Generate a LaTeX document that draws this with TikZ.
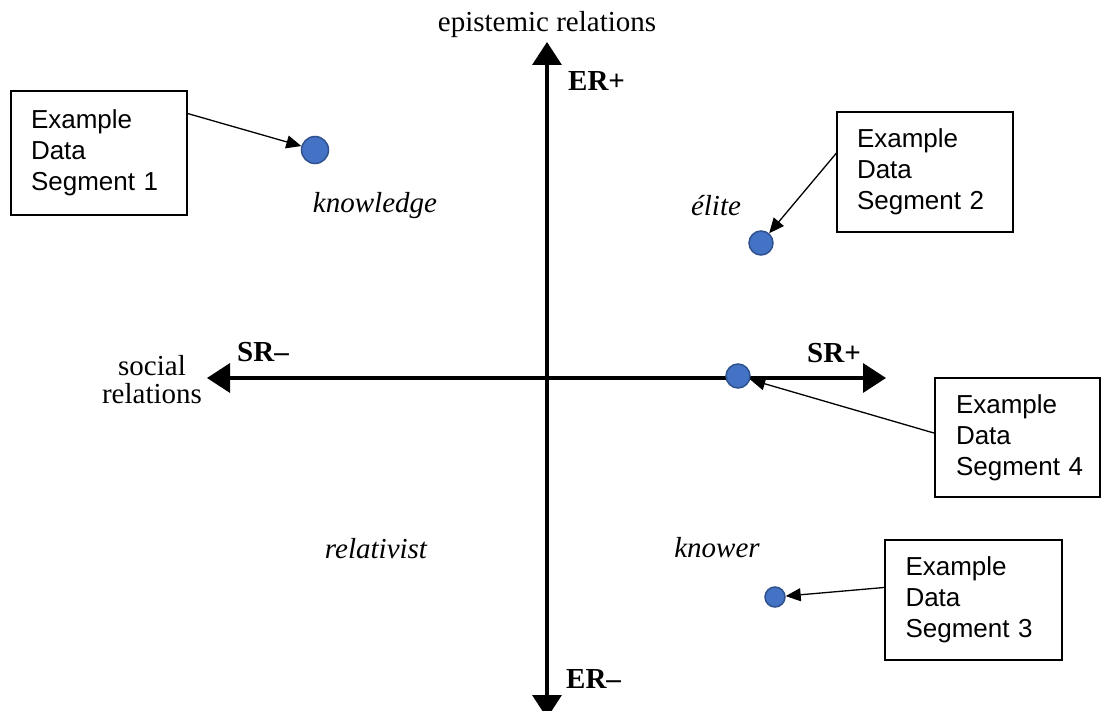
\documentclass[tikz,border=0pt]{standalone}
\usepackage{fontspec}
\setmainfont{Liberation Serif}
\newfontfamily\boxfont{Liberation Sans}
\usetikzlibrary{arrows.meta,calc}
\definecolor{dotfill}{HTML}{4472C4}
\definecolor{dotedge}{HTML}{2F528F}
\begin{document}
\begin{tikzpicture}[x=1pt,y=-1pt,
  axis/.style={line width=3.5pt,
    {Triangle[length=23pt,width=29pt]}-{Triangle[length=23pt,width=29pt]}},
  pointer/.style={line width=1.3pt, -{Triangle[length=15pt,width=13pt]}},
  databox/.style={draw, line width=1.3pt, rectangle, minimum width=176pt,
    minimum height=121pt, text width=136pt, inner xsep=20pt, align=left,
    font=\boxfont\fontsize{26}{31}\selectfont},
  datum/.style={circle, fill=dotfill, draw=dotedge, line width=1.5pt, inner sep=0pt},
  pole/.style={font=\bfseries\fontsize{29}{33}\selectfont, anchor=base west, inner sep=0pt},
  quadrant/.style={font=\itshape\fontsize{29}{33}\selectfont, anchor=base, inner sep=0pt},
  axisname/.style={font=\fontsize{29}{27}\selectfont, anchor=base, inner sep=0pt}]
\useasboundingbox (0,0) rectangle (1103,711);

% axes
\coordinate (axW) at (207,378);
\coordinate (axE) at (886,378);
\coordinate (axN) at (547,42);
\coordinate (axS) at (547,718);
\draw[axis] (axW) -- (axE);
\draw[axis] (axS) -- (axN);

% axis names and poles
\node[axisname] (er) at (547,32) {epistemic relations};
\node[axisname] (sr) at (152,375) {\begin{tabular}[t]{@{}c@{}}social\\relations\end{tabular}};
\node[pole] (erplus) at (568,91) {ER+};
\node[pole] (erminus) at (566,688) {ER–};
\node[pole] (srminus) at (237,361) {SR–};
\node[pole] (srplus) at (807,362) {SR+};

% quadrant names
\node[quadrant] (qk) at (375,213) {knowledge};
\node[quadrant] (qe) at (716,216) {élite};
\node[quadrant] (qr) at (376,558) {relativist};
\node[quadrant] (qw) at (717,557) {knower};

% data points
\node[datum, minimum size=27pt] (d1) at (315,150) {};
\node[datum, minimum size=24pt] (d2) at (761,243) {};
\node[datum, minimum size=24pt] (d4) at (738,376) {};
\node[datum, minimum size=20pt] (d3) at (775,597) {};

% data segment boxes
\node[databox, minimum height=124pt] (b1) at (99,153) {Example\\Data\\Segment 1};
\node[databox, minimum height=120pt] (b2) at (925,172) {Example\\Data\\Segment 2};
\node[databox, minimum width=165pt, text width=123pt, inner xsep=21pt, minimum height=119pt]
  (b4) at (1017.5,437.5) {Example\\Data\\\mbox{Segment 4}\hfill};
\node[databox, minimum width=177pt, minimum height=120pt] (b3) at (973.5,600) {Example\\Data\\Segment 3};

% pointers from boxes to points
\draw[pointer] (b1.24) -- (d1);
\draw[pointer] (b2.168) -- (d2);
\draw[pointer] (b4.177) -- (d4);
\draw[pointer] (b3.172) -- (d3);
\end{tikzpicture}
\end{document}
